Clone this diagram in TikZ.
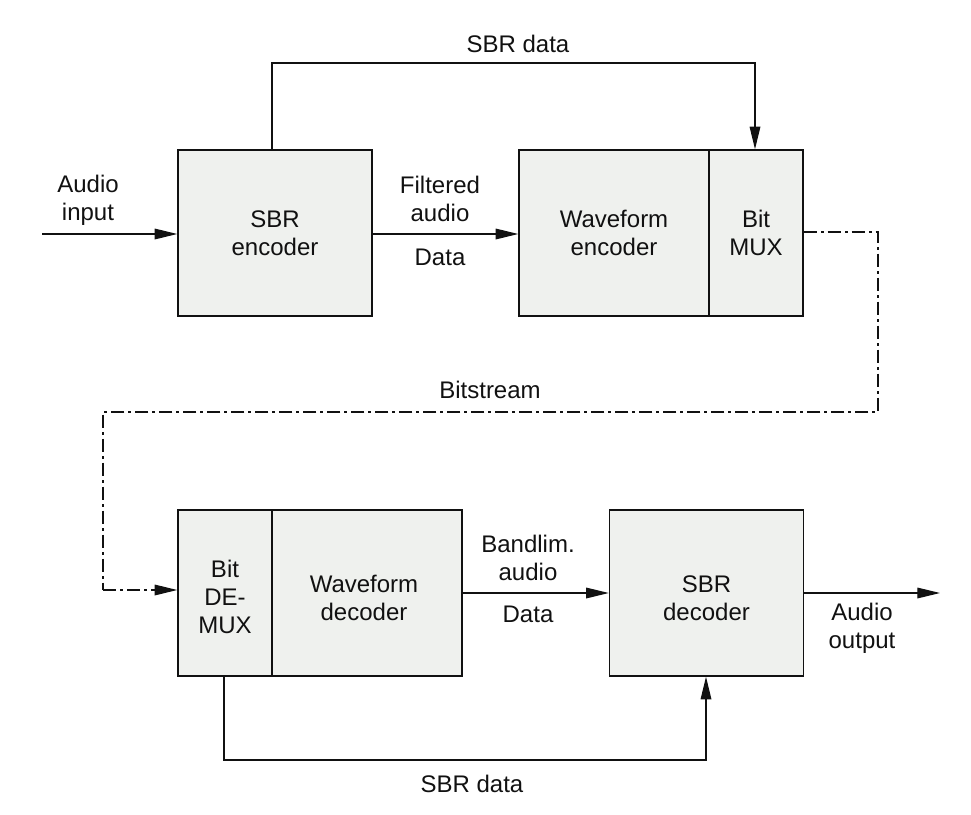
\documentclass[tikz,border=0pt]{standalone}
\usepackage{fontspec}
\setmainfont{Liberation Sans}
\usepackage{tikz}
\usetikzlibrary{arrows.meta}
\definecolor{boxfill}{HTML}{EFF1EE}
\definecolor{ink}{HTML}{111111}
\tikzset{
  blk/.style={draw=ink, fill=boxfill, line width=1.1pt, align=center, inner sep=0pt},
  sig/.style={draw=ink, line width=0.9pt, -{Triangle[length=17pt,width=8pt]}},
  bits/.style={draw=ink, line width=0.9pt, dash pattern=on 10pt off 3pt on 2pt off 3pt},
  lab/.style={align=center, text=ink, font=\fontsize{18}{20.8}\selectfont},
}

\begin{document}
\begin{tikzpicture}[x=0.75pt,y=-0.75pt]
  \useasboundingbox (0,0) rectangle (971,814);
  % encoder side
  \node[blk, minimum width=145.5pt, minimum height=124.5pt] (sbrenc) at (275,233) {};
  \node[blk, minimum width=142.5pt, minimum height=124.5pt] (wfenc) at (614,233) {};
  \node[blk, minimum width=70.5pt, minimum height=124.5pt] (bitmux) at (756,233) {};
  \node[lab] at (sbrenc) {SBR\\encoder};
  \node[lab] at (wfenc) {Waveform\\encoder};
  \node[lab] at (bitmux) {Bit\\MUX};
  % decoder side
  \node[blk, minimum width=70.5pt, minimum height=124.5pt] (bitdemux) at (225,593) {};
  \node[blk, minimum width=142.5pt, minimum height=124.5pt] (wfdec) at (367,593) {};
  \node[blk, minimum width=145.5pt, minimum height=124.5pt] (sbrdec) at (706.5,593) {};
  \node[lab] at (225,597) {Bit\\DE-\\MUX};
  \node[lab] at (364,598) {Waveform\\decoder};
  \node[lab] at (706.5,598) {SBR\\decoder};

  \coordinate (ain) at (42,234);
  \coordinate (aout) at (940,593);
  \coordinate (up1) at (272,63);
  \coordinate (up2) at (755,63);
  \coordinate (dn1) at (224,760);
  \coordinate (dn2) at (706,760);

  \draw[sig] (ain) -- (sbrenc.west |- ain);
  \draw[sig] (sbrenc.east |- ain) -- (wfenc.west |- ain);
  \draw[sig] (sbrenc.north -| up1) -- (up1) -- (up2) -- (bitmux.north -| up2);
  \draw[bits] (bitmux.east |- 0,232) -- (878,232) -- (878,412) -- (103,412) -- (103,590);
  \draw[bits, -{Triangle[length=17pt,width=8pt]}] (103,590) -- (bitdemux.west |- 0,590);
  \draw[sig] (wfdec.east) -- (sbrdec.west);
  \draw[sig] (sbrdec.east) -- (aout);
  \draw[sig] (bitdemux.south -| dn1) -- (dn1) -- (dn2) -- (sbrdec.south -| dn2);

  % labels
  \node[lab] at (518,44) {SBR data};
  \node[lab] at (88,200) {Audio\\input};
  \node[lab] at (440,199) {Filtered\\audio};
  \node[lab] at (440,257) {Data};
  \node[lab] at (490,390) {Bitstream};
  \node[lab] at (528,558) {Bandlim.\\audio};
  \node[lab] at (528,614) {Data};
  \node[lab] at (862,628) {Audio\\output};
  \node[lab] at (472,784) {SBR data};
\end{tikzpicture}
\end{document}
